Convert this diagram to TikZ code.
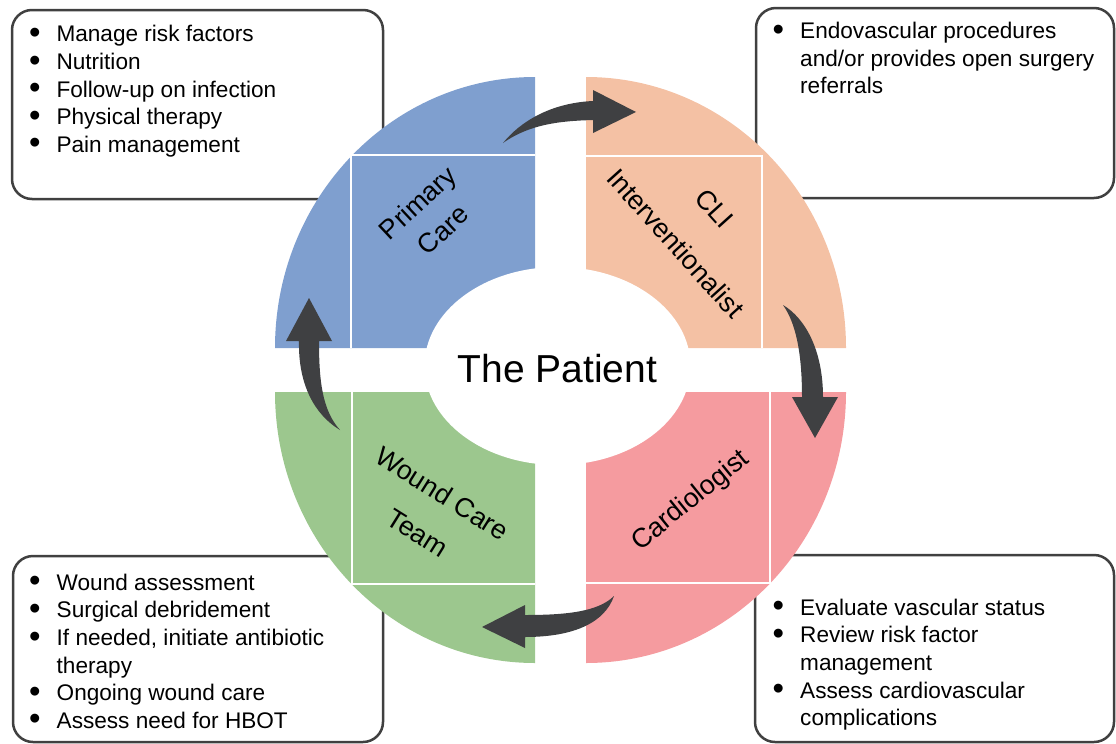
\documentclass[tikz,border=0pt]{standalone}
\usepackage{fontspec}
\setmainfont{Liberation Sans}
\usepackage{tikz}
\usetikzlibrary{positioning}
\definecolor{careblue}{RGB}{127,159,207}
\definecolor{clipeach}{RGB}{244,193,164}
\definecolor{woundgreen}{RGB}{156,199,142}
\definecolor{cardpink}{RGB}{245,155,159}
\definecolor{turngray}{RGB}{63,64,66}
\definecolor{boxgray}{RGB}{64,64,64}
\newcommand{\bul}{\makebox[27.5pt][l]{\raisebox{-1.6pt}{\scalebox{1.45}{\textbullet}}}}
\newcommand{\bulgap}{\hspace*{27.5pt}}

\begin{document}
\begin{tikzpicture}[x=1pt,y=-1pt,
  infobox/.style={draw=boxgray,line width=2.5pt,rounded corners=20pt,fill=white},
  itemtext/.style={anchor=north west,align=left,inner sep=0pt,font=\fontsize{22.6}{27.6}\selectfont},
  role/.style={align=center,inner sep=0pt,font=\fontsize{27}{37}\selectfont},
  cut/.style={white,line width=1.2pt},
  turn/.style={fill=turngray}]
\useasboundingbox (0,0) rectangle (1116,744);

\draw[infobox] (12,10) rectangle (383,199);
\draw[infobox] (756,8) rectangle (1114,198);
\draw[infobox] (13,556) rectangle (383,742);
\draw[infobox] (755,555) rectangle (1114,742);

\node[itemtext] (primarylist) at (28.8,25.4) {\bul Manage risk factors\\ \bul Nutrition\\ \bul Follow-up on infection\\ \bul Physical therapy\\ \bul Pain management};
\node[itemtext] (clilist) at (772.5,22) {\bul Endovascular procedures\\ \bulgap and/or provides open surgery\\ \bulgap referrals};
\node[itemtext] (woundlist) at (29,573.7) {\bul Wound assessment\\ \bul Surgical debridement\\ \bul If needed, initiate antibiotic\\ \bulgap therapy\\ \bul Ongoing wound care\\ \bul Assess need for HBOT};
\node[itemtext] (cardlist) at (772.5,598.7) {\bul Evaluate vascular status\\ \bul Review risk factor\\ \bulgap management\\ \bul Assess cardiovascular\\ \bulgap complications};

\fill[careblue] (535,348) -- (275,348) arc[start angle=180,end angle=90,x radius=260pt,y radius=271pt] -- cycle;
\fill[clipeach] (586,348) -- (586,77) arc[start angle=90,end angle=0,x radius=260pt,y radius=271pt] -- cycle;
\fill[woundgreen] (535,392) -- (275,392) arc[start angle=180,end angle=270,x radius=260pt,y radius=271pt] -- cycle;
\fill[cardpink] (586,392) -- (846,392) arc[start angle=0,end angle=-90,x radius=260pt,y radius=271pt] -- cycle;

\draw[cut] (535,155) -- (351,155) -- (351,348);
\draw[cut] (586,156) -- (762,156) -- (762,348);
\draw[cut] (352,392) -- (352,584) -- (535,584);
\draw[cut] (770,392) -- (770,583) -- (586,583);

\fill[white] (557.5,366) ellipse [x radius=133pt,y radius=99pt];
\node[font=\fontsize{39}{40}\selectfont] (patient) at (557.5,369) {The Patient};

\node[role,rotate=43] (primary) at (430,216) {Primary\\Care};
\node[role,rotate=-48] (cli) at (695,226) {CLI\\[15pt]Interventionalist};
\node[role,rotate=-32] (wound) at (430,513) {Wound Care\\[9pt]Team};
\node[role,rotate=39] (cardio) at (691,501) {Cardiologist};

\fill[turn] (503,143) .. controls (520,122) and (550,103) .. (593,101) -- (593,90) -- (636,112) -- (593,133) -- (593,120) .. controls (560,121) and (530,124) .. (503,143) -- cycle;
\fill[turn] (783,305) .. controls (805,318) and (823,350) .. (823,397) -- (838,397) -- (815,438) -- (792,397) -- (802,397) .. controls (802,350) and (795,322) .. (783,305) -- cycle;
\fill[turn] (614,596) .. controls (598,612) and (565,615) .. (525,615) -- (525,605) -- (482,627) -- (525,648) -- (525,637) .. controls (575,637) and (605,622) .. (614,596) -- cycle;
\fill[turn] (340,430) .. controls (322,410) and (319,380) .. (319,341) -- (332,341) -- (309,298) -- (286,341) -- (299,341) .. controls (298,385) and (315,415) .. (340,430) -- cycle;
\end{tikzpicture}
\end{document}
